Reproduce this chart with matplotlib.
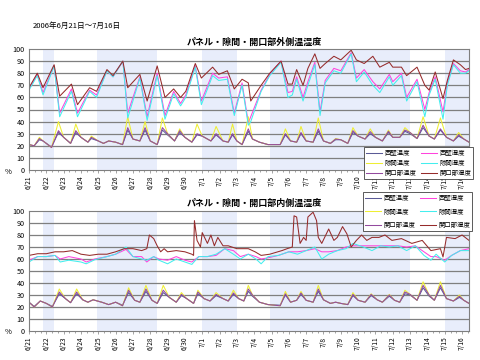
import matplotlib
matplotlib.use("Agg")
import matplotlib.pyplot as plt
import numpy as np

plt.rcParams['font.family'] = ['Noto Sans CJK JP', 'DejaVu Sans']

# days counted from 6/21 00:00
day_labels = ['6/21', '6/22', '6/23', '6/24', '6/25', '6/26', '6/27', '6/28', '6/29', '6/30',
              '7/1', '7/2', '7/3', '7/4', '7/5', '7/6', '7/7', '7/8', '7/9', '7/10',
              '7/11', '7/12', '7/13', '7/14', '7/15', '7/16']
shade_spans = [(0.81, 1.45), (3.93, 7.4), (10.0, 12.0), (13.9, 22.0), (24.0, 25.4)]

# ---- outer side (top chart) ----
t_top_T = [0, 0.3, 0.6, 0.81, 1.3, 1.7, 2.0, 2.4, 2.7, 3.0, 3.4, 3.6, 4.0, 4.3, 4.6, 5.0, 5.4, 5.7, 6.0, 6.4,
           6.7, 7.0, 7.4, 7.7, 8.0, 8.4, 8.7, 9.0, 9.4, 9.7, 10.0, 10.5, 10.8, 11.2, 11.5, 11.75, 12.0, 12.3,
           12.66, 12.9, 13.3, 13.8, 14.5, 14.8, 15.1, 15.45, 15.7, 16.0, 16.4, 16.7, 17.0, 17.4, 17.7, 18.0,
           18.4, 18.7, 19.0, 19.4, 19.7, 20.0, 20.4, 20.75, 21.0, 21.4, 21.7, 22.0, 22.4, 22.75, 23.1, 23.4,
           23.75, 24.1, 24.5, 24.8, 25.1, 25.4]
top_wall_T = [21, 20, 25, 24, 19, 31, 27, 22, 31, 27, 23, 26, 24, 22, 24, 23, 21, 33, 25.6, 24, 33, 24, 21, 33,
              29, 24, 31, 27, 23, 29, 28, 24, 29, 24, 23, 29, 24, 21, 32, 25.6, 23, 21, 21, 29, 24, 23, 30, 24,
              23, 32, 24, 22, 25, 25, 22, 31, 28, 25.6, 30, 27, 24, 31, 27, 27, 32, 30, 26, 35, 28, 25.6, 33,
              27, 24, 28, 25.6, 23]
top_gap_T = [21, 20, 27, 24, 18.6, 40, 27, 22, 38, 27, 23, 28, 24, 22, 24, 23, 21, 44, 25.6, 24, 40, 24, 21, 43,
             30, 24, 34, 27, 23, 38, 28, 24, 36, 24, 23, 38, 24, 21, 44, 25.6, 23, 21, 21, 34, 24, 23, 36, 24,
             23, 43, 24, 22, 26, 25, 22, 35, 28, 25.6, 34, 27, 24, 33, 27, 27, 35, 31, 26, 44, 28, 25.6, 43,
             27, 24, 31, 25.6, 23]
top_open_T = [21, 20, 26, 24, 18.6, 32.5, 27, 22, 32.5, 27, 23, 27, 24, 22, 24, 23, 21, 35, 25.6, 24, 35, 24, 21,
              35, 30, 24, 32.5, 27, 23, 30, 28, 24, 30, 24, 23, 30, 24, 21, 34, 25.6, 23, 21, 21, 30, 24, 23, 31,
              24, 23, 34, 24, 22, 25.6, 25, 22, 32.5, 28, 25.6, 31.7, 27, 24, 32, 27, 27, 33, 31, 26, 37, 28,
              25.6, 34, 27, 24, 29, 25.6, 23]

t_top_H = [0, 0.48, 0.81, 1.45, 1.77, 2.45, 2.8, 3.5, 3.9, 4.5, 4.85, 5.42, 5.7, 6.4, 6.82, 7.4, 7.85, 8.35,
           8.75, 9.05, 9.6, 9.95, 10.6, 10.95, 11.45, 11.85, 12.3, 12.66, 12.8, 13.4, 13.9, 14.55, 14.95, 15.2,
           15.45, 15.82, 16.1, 16.5, 16.8, 17.1, 17.6, 18.0, 18.6, 18.9, 19.35, 19.85, 20.25, 20.8, 21.0, 21.5,
           21.8, 22.4, 22.85, 23.1, 23.45, 23.9, 24.15, 24.5, 24.9, 25.2, 25.4]
top_wall_H = [67, 79, 64, 86, 47, 67, 47, 66, 62, 82, 77, 90, 47, 77, 44, 80, 45, 65, 55, 62, 86, 57, 80, 76,
              77, 47, 72, 39, 44, 66, 79, 90, 64, 65, 77, 60, 73, 89, 48, 74, 84, 82, 97, 76, 83, 73, 67, 79,
              73, 80, 60, 75, 50, 64, 77, 48, 72, 88, 82, 81, 83]
top_gap_H = [66, 78, 62, 86, 44, 65, 44, 65, 60, 82, 77, 90, 43, 76, 41, 78, 42, 63, 53, 60, 85, 54, 78, 74,
             75, 45, 70, 37, 40, 65, 78, 89, 60, 62, 75, 57, 70, 87, 45, 72, 82, 80, 96, 73, 81, 70, 64, 77,
             70, 78, 57, 73, 44, 62, 75, 42, 70, 87, 80, 80, 82]
top_open_H = [68, 80, 68, 87, 61, 71, 54, 68, 65, 83, 78, 90, 68, 79, 57, 86, 60, 67, 60, 65, 88, 76, 85, 79,
              82, 67, 75, 72, 57, 70, 80, 90, 71, 71, 83, 70, 84, 96, 84, 88, 94, 91, 99, 91, 88, 94, 85, 89,
              85, 85, 78, 85, 70, 66, 81, 59, 74, 91, 87, 83, 84]

# ---- inner side (bottom chart) ----
t_bot_T = [0, 0.3, 0.65, 1.0, 1.35, 1.75, 2.1, 2.4, 2.75, 3.1, 3.4, 3.7, 4.2, 4.6, 5.0, 5.4, 5.75, 6.1, 6.4,
           6.75, 7.1, 7.4, 7.75, 8.1, 8.5, 8.8, 9.1, 9.5, 9.75, 10.1, 10.45, 10.8, 11.2, 11.5, 11.8, 12.1, 12.4,
           12.66, 12.9, 13.3, 13.8, 14.5, 14.8, 15.1, 15.45, 15.7, 16.0, 16.4, 16.7, 17.0, 17.4, 17.7, 18.0,
           18.4, 18.7, 19.0, 19.4, 19.75, 20.1, 20.4, 20.8, 21.1, 21.4, 21.7, 22.0, 22.4, 22.75, 23.1, 23.4,
           23.75, 24.1, 24.5, 24.85, 25.1, 25.4]
bot_wall_T = [24, 20.5, 25, 23, 20.5, 31, 27, 23.6, 31, 26, 24, 26, 24, 22, 24, 21.5, 32, 25.6, 24, 33, 25.6,
              23, 32, 28, 24, 29.5, 27, 23, 31, 27, 25, 29.5, 27, 25, 30.5, 27, 25, 33, 29, 24, 22, 21.5, 30,
              24, 25.6, 30.5, 25.6, 24, 33, 26, 23, 24, 23, 22, 29.5, 25.6, 24, 29.5, 26, 24, 29, 25.6, 24, 31,
              30, 25.6, 36, 29, 25.6, 36, 27, 25, 28, 25.6, 23]
bot_gap_T = [24, 20, 25, 23, 20, 35, 27, 23.6, 35, 26, 24, 26, 24, 22, 24, 21, 36, 25.6, 24, 38, 25.6, 23, 38,
             28, 24, 32, 27, 23, 34, 27, 25, 32, 27, 25, 34, 27, 25, 38, 30, 24, 22, 21, 33, 24, 25.6, 33, 25.6,
             24, 38, 26, 23, 24, 23, 22, 32, 25.6, 24, 31, 26, 24, 30.5, 25.6, 24, 34, 30.5, 25.6, 41, 30, 25.6,
             41, 27, 25, 30, 25.6, 23]
bot_open_T = [24, 20, 25, 23, 20, 32.5, 27, 23.6, 32.5, 26, 24, 26, 24, 22, 24, 21, 34, 25.6, 24, 35, 25.6, 23,
              34, 28, 24, 30.5, 27, 23, 32.5, 27, 25, 30.5, 27, 25, 31.7, 27, 25, 35, 30, 24, 22, 21, 31, 24,
              25.6, 31.7, 25.6, 24, 35, 26, 23, 24, 23, 22, 30.5, 25.6, 24, 30.5, 26, 24, 30, 25.6, 24, 32.5,
              30.5, 25.6, 38, 30, 25.6, 38, 27, 25, 29, 25.6, 23]

t_bot_H = [0, 0.5, 1.0, 1.5, 1.8, 2.3, 3.0, 3.3, 3.8, 4.5, 5.0, 5.6, 6.0, 6.5, 6.8, 7.2, 7.5, 8.0, 8.5, 9.0,
           9.4, 9.8, 10.3, 10.8, 11.3, 11.8, 12.2, 12.66, 13.1, 13.4, 13.8, 14.4, 15.0, 15.5, 16.0, 16.5, 16.9,
           17.3, 17.8, 18.3, 18.7, 19.3, 19.8, 20.3, 20.8, 21.3, 21.8, 22.3, 22.8, 23.2, 23.5, 24.0, 24.4, 24.9,
           25.4]
bot_wall_H = [59, 62, 62, 63, 60, 62, 60, 57.5, 60, 62, 64, 68, 62, 62, 57.5, 62, 60, 59, 62, 59, 57.5, 62, 62,
              63, 68.6, 67, 62, 64, 62, 60, 61, 63, 66, 66, 67, 68.6, 66, 66, 67, 70, 71, 71, 71, 71, 71, 71, 70,
              71, 66, 62, 62, 59, 63, 67, 68.6]
bot_gap_H = [57.5, 62, 62, 63, 57.5, 59, 57.5, 56, 59.4, 62, 64, 70, 62, 60, 59, 62, 59, 56, 60, 57.5, 55.5, 62,
             62, 64, 68.6, 64, 60, 64, 60, 56, 62, 63, 66, 64, 67, 70, 60, 64, 67, 68.6, 73, 70, 67, 71, 70, 71,
             67, 71, 63, 59, 64, 57.5, 63, 67, 67]
t_bot_Ho = [0, 0.5, 1.0, 1.5, 2.0, 2.5, 3.0, 3.5, 4.0, 4.5, 5.0, 5.5, 6.0, 6.5, 6.8, 6.95, 7.2, 7.4, 7.6, 7.8,
            8.0, 8.5, 9.0, 9.4, 9.5, 9.55, 9.7, 9.9, 10.0, 10.3, 10.5, 10.7, 10.9, 11.2, 11.5, 12.0, 12.66, 13.05,
            13.4, 13.9, 14.6, 14.9, 15.2, 15.3, 15.45, 15.65, 15.85, 16.0, 16.1, 16.4, 16.6, 16.7, 16.9, 17.3,
            17.6, 17.8, 18.1, 18.35, 18.6, 18.9, 19.2, 19.5, 19.8, 20.2, 20.55, 20.95, 21.5, 22.1, 22.7, 23.2,
            23.75, 23.9, 24.1, 24.6, 25.0, 25.4]
bot_open_H = [63, 64.4, 64.4, 66, 66, 67, 64, 63, 64, 64, 66, 68.6, 68.6, 67, 68.6, 80, 77, 71, 66, 68.6, 66,
              67, 66, 64, 63, 92, 75.5, 70, 82, 73, 80, 71, 78, 71, 71, 68.6, 68.6, 66, 63, 64, 67, 68.6, 70,
              96, 95, 73, 78, 75.5, 95, 99, 92, 78, 73, 85, 75.5, 78, 87, 81, 70, 75.5, 80, 75.5, 78, 78, 80,
              75.5, 77, 73, 75.5, 67, 68.6, 61.7, 78, 77, 80, 75.5]

names = ['西壁温度', '西壁湿度', '隙間温度', '隙間湿度', '開口部温度', '開口部湿度']
colors = ['#5a5a96', '#ff44dd', '#eeee33', '#44eeee', '#934a9e', '#962b2b']
shade = '#e8edfb'
grid = '#7f7f7f'

fig = plt.figure(figsize=(4.8, 3.6), dpi=100)


def panel(rect, series, title, title_y, leg_anchor, leg_sp):
    ax = fig.add_axes(rect)
    for a, b in shade_spans:
        ax.axvspan(a, b, color=shade, lw=0, zorder=0)
    for v in range(10, 100, 10):
        ax.axhline(v, color=grid, lw=0.9, zorder=1)
    lines = []
    for (t, y), name, c in zip(series, names, colors):
        l, = ax.plot(t, y, color=c, lw=0.75, label=name, zorder=2)
        lines.append(l)
    ax.set_xlim(0, 25.4)
    ax.set_ylim(0, 100)
    ax.set_yticks(range(0, 101, 10))
    ax.set_xticks(range(26))
    ax.set_xticklabels(day_labels, rotation=90)
    ax.set_xticks(np.arange(0, 25.4, 1 / 3), minor=True)
    ax.tick_params(axis='x', labelsize=4.8, length=2, width=0.5, color=grid, pad=2)
    ax.tick_params(axis='x', which='minor', length=1.5, width=0.5, color=grid)
    ax.tick_params(axis='y', labelsize=5.2, length=0, pad=3)
    for s in ax.spines.values():
        s.set_color(grid)
        s.set_linewidth(0.8)
    fig.text(0.53, title_y, title, ha='center', va='center', fontsize=6.5, fontweight='bold')
    order = [0, 2, 4, 1, 3, 5]
    leg = fig.legend([lines[i] for i in order], [names[i] for i in order], ncol=2,
                     loc='upper left', bbox_to_anchor=leg_anchor, fontsize=4.6, frameon=True,
                     fancybox=False, edgecolor='#404040', framealpha=1, borderpad=0.3,
                     borderaxespad=0, handlelength=2.5, columnspacing=0.7, labelspacing=leg_sp,
                     handletextpad=0.4)
    leg.get_frame().set_linewidth(0.6)
    return ax


top = [(t_top_T, top_wall_T), (t_top_H, top_wall_H), (t_top_T, top_gap_T),
       (t_top_H, top_gap_H), (t_top_T, top_open_T), (t_top_H, top_open_H)]
bot = [(t_bot_T, bot_wall_T), (t_bot_H, bot_wall_H), (t_bot_T, bot_gap_T),
       (t_bot_H, bot_gap_H), (t_bot_T, bot_open_T), (t_bot_Ho, bot_open_H)]

panel([29 / 480, 1 - 170 / 360, 440 / 480, 121 / 360], top,
      'パネル・隙間・開口部外側温湿度', 1 - 42 / 360, (364 / 480, 1 - 147 / 360), 0.3)
panel([29 / 480, 1 - 331 / 360, 440 / 480, 120 / 360], bot,
      'パネル・隙間・開口部内側温湿度', 1 - 203 / 360, (363 / 480, 1 - 192 / 360), 0.9)

fig.text(33 / 480, 1 - 26 / 360, '2006年6月21日～7月16日', fontsize=5.5, va='center')
fig.text(8 / 480, 1 - 172 / 360, '%', fontsize=5.5, va='center', ha='center')
fig.text(8 / 480, 1 - 332 / 360, '%', fontsize=5.5, va='center', ha='center')

fig.savefig('out.png', dpi=100)
